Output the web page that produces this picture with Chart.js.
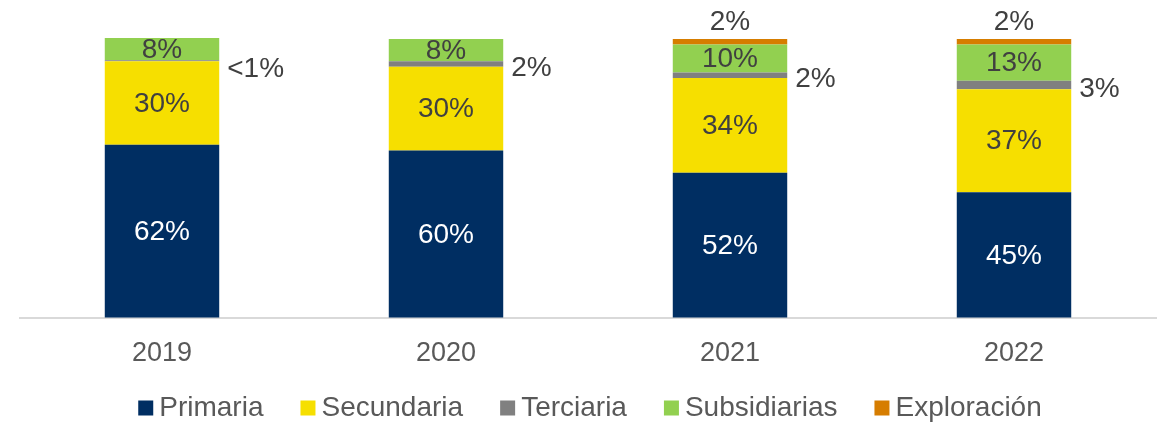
<!DOCTYPE html>
<html>
<head>
<meta charset="utf-8">
<script src="https://cdn.jsdelivr.net/npm/chart.js@4"></script>
<style>
  html, body { margin: 0; padding: 0; background: #ffffff; }
  #contenedor { width: 1168px; height: 424px; }
</style>
</head>
<body>
<div id="contenedor"><canvas id="myBarChart"></canvas></div>
<script>
var anios = ['2019', '2020', '2021', '2022'];
var primaria = [62, 60, 52, 45];
var secundaria = [30, 30, 34, 37];
var terciaria = [0.4, 2, 2, 3];
var subsidiarias = [8, 8, 10, 13];
var exploracion = [0, 0, 2, 2];

var fuente = '"Liberation Sans", Arial, sans-serif';

function formato(v) {
    if (v < 1) return '<1%';
    return Math.round(v) + '%';
}

// etiquetas de cada segmento (dentro, a la derecha o encima)
var etiquetas = {
    id: 'etiquetas',
    afterDatasetsDraw: function(chart) {
        var ctx = chart.ctx;
        ctx.save();
        ctx.font = '28px ' + fuente;
        ctx.textBaseline = 'middle';
        chart.data.datasets.forEach(function(ds, i) {
            var meta = chart.getDatasetMeta(i);
            meta.data.forEach(function(bar, j) {
                var v = ds.data[j];
                if (!v) return;
                var texto = formato(v);
                var medio = (bar.y + bar.base) / 2;
                if (ds.posicion === 'derecha') {
                    // el segmento casi vacío lleva su etiqueta un poco más abajo
                    var bajada = v < 1 ? 9 : 4;
                    ctx.fillStyle = '#404040';
                    ctx.textAlign = 'left';
                    ctx.fillText(texto, bar.x + bar.width / 2 + 8, medio + bajada);
                } else if (ds.posicion === 'arriba') {
                    ctx.fillStyle = '#404040';
                    ctx.textAlign = 'center';
                    ctx.fillText(texto, bar.x, bar.y - 17);
                } else {
                    ctx.fillStyle = ds.colorTexto;
                    ctx.textAlign = 'center';
                    ctx.fillText(texto, bar.x, medio + 1);
                }
            });
        });
        ctx.restore();
    }
};

// leyenda dibujada a mano para controlar los espacios
var leyenda = {
    id: 'leyenda',
    afterDraw: function(chart) {
        var ctx = chart.ctx;
        var caja = 15, hueco = 6, separacion = 37, y = 408;
        ctx.save();
        ctx.font = '28px ' + fuente;
        ctx.textBaseline = 'middle';
        ctx.textAlign = 'left';
        var total = 0;
        chart.data.datasets.forEach(function(ds, i) {
            total += caja + hueco + ctx.measureText(ds.label).width;
            if (i > 0) total += separacion;
        });
        var x = (chart.width - total) / 2 + 6;
        chart.data.datasets.forEach(function(ds) {
            ctx.fillStyle = ds.backgroundColor;
            ctx.fillRect(x, y - caja / 2, caja, caja);
            x += caja + hueco;
            ctx.fillStyle = '#595959';
            ctx.fillText(ds.label, x, y);
            x += ctx.measureText(ds.label).width + separacion;
        });
        ctx.restore();
    }
};

var ctx = document.getElementById('myBarChart').getContext('2d');
var myChart = new Chart(ctx, {
    type: 'bar',
    data: {
        labels: anios,
        datasets: [
            { label: 'Primaria', data: primaria, backgroundColor: '#002E62', colorTexto: '#ffffff' },
            { label: 'Secundaria', data: secundaria, backgroundColor: '#F6DF00', colorTexto: '#404040' },
            { label: 'Terciaria', data: terciaria, backgroundColor: '#808080', posicion: 'derecha' },
            { label: 'Subsidiarias', data: subsidiarias, backgroundColor: '#92D050', colorTexto: '#404040' },
            { label: 'Exploración', data: exploracion, backgroundColor: '#D67D00', posicion: 'arriba' }
        ]
    },
    options: {
        responsive: true,
        maintainAspectRatio: false,
        animation: false,
        layout: {
            padding: { top: 39, left: 20, right: 12, bottom: 34 }
        },
        datasets: {
            bar: {
                barPercentage: 0.403,
                categoryPercentage: 1,
                borderWidth: 0,
                clip: false
            }
        },
        scales: {
            x: {
                stacked: true,
                grid: { display: false, drawTicks: false },
                border: { color: '#D9D9D9', width: 2 },
                ticks: {
                    color: '#595959',
                    padding: 20,
                    font: { family: fuente, size: 27 }
                }
            },
            y: {
                stacked: true,
                display: false,
                min: 0,
                max: 100
            }
        },
        plugins: {
            tooltip: { enabled: false },
            legend: { display: false }
        }
    },
    plugins: [etiquetas, leyenda]
});
</script>
</body>
</html>
